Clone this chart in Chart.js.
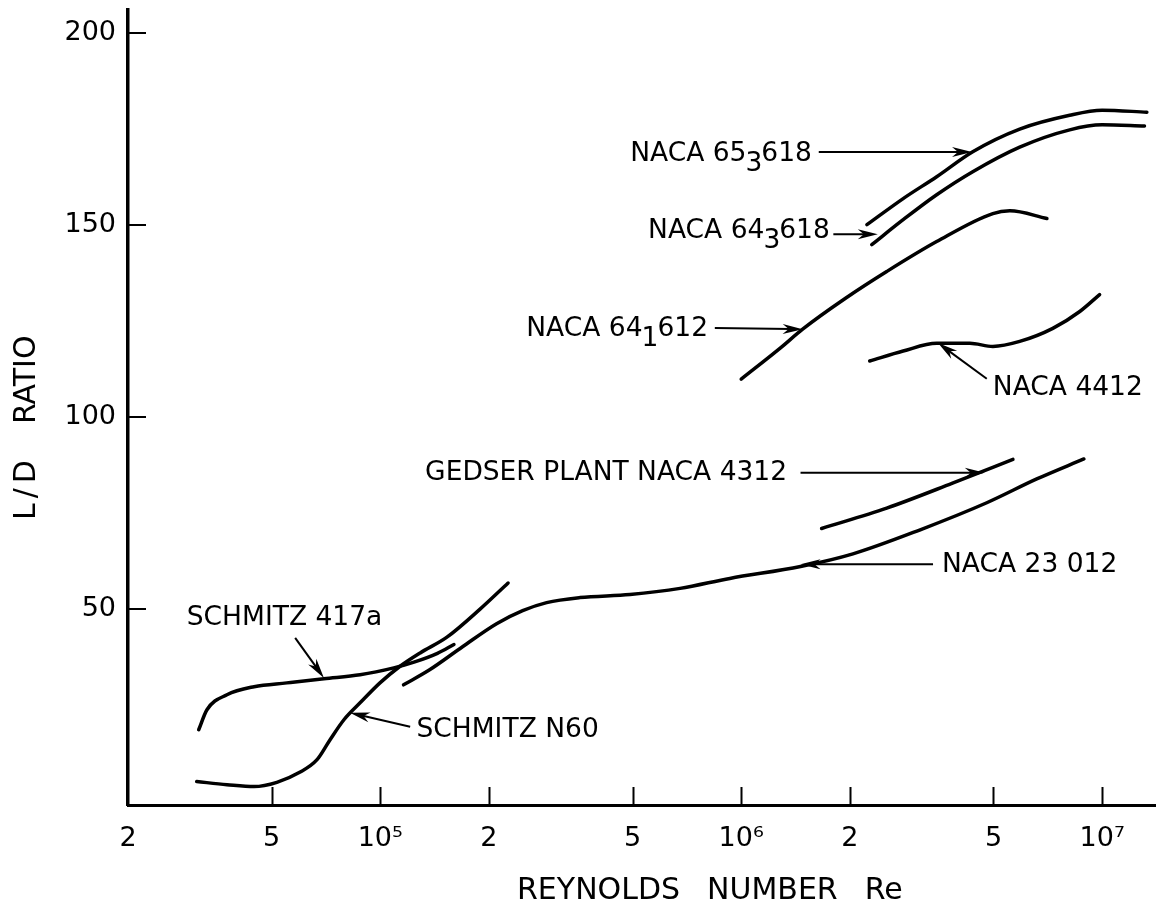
<!DOCTYPE html>
<html>
<head>
<meta charset="utf-8">
<script src="https://cdn.jsdelivr.net/npm/chart.js@4/dist/chart.umd.min.js"></script>
<style>
  html, body { margin: 0; padding: 0; background: #fff; }
  #wrap { width: 1156px; height: 914px; }
</style>
</head>
<body>
<div id="wrap"><canvas id="ldChart" width="1156" height="914"></canvas></div>
<script>
// axis ticks
const reTicks = [2e4, 5e4, 1e5, 2e5, 5e5, 1e6, 2e6, 5e6, 1e7];
const reTickLabels = ['2', '5', '10⁵', '2', '5', '10⁶', '2', '5', '10⁷'];
const ldTicks = [50, 100, 150, 200];
const xTitleWords = ['REYNOLDS', 'NUMBER', 'Re'];
const yTitleWords = ['L/D', 'RATIO'];

// curves (Reynolds number, L/D)
const schmitz417aRe = [3.14e4, 3.31e4, 3.76e4, 4.47e4, 5.51e4, 6.98e4, 8.79e4, 1.09e5, 1.24e5, 1.44e5, 1.60e5];
const schmitz417aLD = [18.6, 23.8, 27.7, 29.8, 30.8, 31.9, 32.9, 34.7, 36.2, 38.5, 40.8];

const schmitzN60Re = [3.10e4, 3.76e4, 4.47e4, 5.17e4, 5.98e4, 6.68e4, 7.26e4, 7.93e4, 8.79e4, 9.98e4, 1.13e5, 1.29e5, 1.53e5, 1.89e5, 2.26e5];
const schmitzN60LD = [5.1, 4.3, 3.8, 4.9, 7.5, 10.8, 16.0, 21.2, 25.6, 30.8, 35.0, 38.6, 42.7, 50.0, 56.8];

const naca23012Re = [1.16e5, 1.37e5, 1.69e5, 2.10e5, 2.48e5, 2.89e5, 3.57e5, 4.92e5, 6.77e5, 9.30e5, 1.46e6, 2.04e6, 3.12e6, 4.79e6, 6.59e6, 8.90e6];
const naca23012LD = [30.3, 34.2, 40.2, 46.2, 49.6, 51.7, 53.0, 53.8, 55.4, 58.0, 61.1, 64.4, 70.6, 77.7, 83.9, 89.1];

const gedser4312Re = [1.67e6, 2.53e6, 3.85e6, 5.66e6];
const gedser4312LD = [71.0, 76.3, 82.8, 89.0];

const naca4412Re = [2.27e6, 2.81e6, 3.48e6, 4.30e6, 4.98e6, 5.91e6, 7.30e6, 8.67e6, 9.84e6];
const naca4412LD = [114.6, 117.2, 119.2, 119.2, 118.4, 119.7, 123.1, 127.5, 131.9];

const naca641612Re = [1.00e6, 1.28e6, 1.48e6, 1.95e6, 2.53e6, 3.48e6, 4.98e6, 5.55e6, 7.03e6];
const naca641612LD = [109.9, 117.9, 122.9, 131.0, 137.9, 145.7, 153.0, 153.7, 151.7];

const naca643618Re = [2.30e6, 2.81e6, 3.48e6, 4.38e6, 5.91e6, 8.13e6, 1.00e7, 1.31e7];
const naca643618LD = [144.9, 151.4, 157.9, 163.9, 170.3, 174.8, 176.1, 175.8];

const naca653618Re = [2.23e6, 2.81e6, 3.48e6, 4.38e6, 5.91e6, 8.13e6, 1.00e7, 1.33e7];
const naca653618LD = [150.1, 156.9, 162.6, 169.1, 175.0, 178.6, 179.9, 179.4];

// callouts: text anchor, arrow tail and tip, all in (Re, L/D); [text, isSubscript]
const callouts = [
    { parts: [['NACA 65'], ['3', 1], ['618']], align: 'right', at: [1.57e6, 168.5], tail: [1.64e6, 169.0], tip: [4.36e6, 169.0] },
    { parts: [['NACA 64'], ['3', 1], ['618']], align: 'right', at: [1.76e6, 148.3], tail: [1.80e6, 147.6], tip: [2.39e6, 147.6] },
    { parts: [['NACA 64'], ['1', 1], ['612']], align: 'right', at: [8.09e5, 123.0], tail: [8.45e5, 123.2], tip: [1.48e6, 122.9] },
    { parts: [['NACA 4412']], align: 'left', at: [4.98e6, 107.6], tail: [4.79e6, 110.0], tip: [3.51e6, 119.3] },
    { parts: [['GEDSER PLANT NACA 4312']], align: 'right', at: [1.34e6, 85.5], tail: [1.46e6, 85.5], tip: [4.73e6, 85.5] },
    { parts: [['NACA 23 012']], align: 'left', at: [3.60e6, 61.4], tail: [3.40e6, 61.7], tip: [1.46e6, 61.7] },
    { parts: [['SCHMITZ 417a']], align: 'left', at: [2.91e4, 47.7], tail: [5.81e4, 42.5], tip: [6.98e4, 32.1] },
    { parts: [['SCHMITZ N60']], align: 'left', at: [1.26e5, 18.6], tail: [1.21e5, 19.4], tip: [8.24e4, 23.0] }
];

const FAMILY = '"DejaVu Sans", sans-serif';
const TICK_FONT = { family: FAMILY, size: 27 };
const LABEL_PX = 26.5;
const TITLE_PX = 30;

function toPoints(xs, ys) {
    return xs.map((x, i) => ({ x: x, y: ys[i] }));
}

function curve(label, xs, ys) {
    return {
        label: label,
        data: toPoints(xs, ys),
        borderColor: '#000',
        borderWidth: 3.5,
        pointRadius: 0,
        fill: false,
        cubicInterpolationMode: 'monotone',
        borderCapStyle: 'round'
    };
}

const inwardTicks = {
    id: 'inwardTicks',
    afterDraw(chart) {
        const { ctx, chartArea, scales } = chart;
        ctx.save();
        ctx.strokeStyle = '#000';
        ctx.lineWidth = 2;
        ctx.beginPath();
        scales.x.ticks.forEach(t => {
            if (t.value === scales.x.min) return;
            const px = Math.round(scales.x.getPixelForValue(t.value)) + 0.5;
            ctx.moveTo(px, chartArea.bottom);
            ctx.lineTo(px, chartArea.bottom - 18);
        });
        scales.y.ticks.forEach(t => {
            const py = Math.round(scales.y.getPixelForValue(t.value));
            ctx.moveTo(chartArea.left, py);
            ctx.lineTo(chartArea.left + 18, py);
        });
        ctx.stroke();
        ctx.restore();
    }
};

// axis titles, spaced out like the hand lettering
const axisTitles = {
    id: 'axisTitles',
    afterDraw(chart) {
        const { ctx, chartArea } = chart;
        ctx.save();
        ctx.fillStyle = '#000';
        ctx.font = TITLE_PX + 'px ' + FAMILY;
        ctx.textBaseline = 'middle';
        ctx.textAlign = 'left';
        const gap = 27;
        let tx = chartArea.left + 389;
        const ty = chartArea.bottom + 86;
        xTitleWords.forEach(w => {
            ctx.fillText(w, tx, ty);
            tx += ctx.measureText(w).width + gap;
        });
        ctx.translate(chartArea.left - 101, chartArea.top + 510);
        ctx.rotate(-Math.PI / 2);
        let ry = 0;
        yTitleWords.forEach((w, i) => {
            ctx.letterSpacing = i === 0 ? '5px' : '0px';
            ctx.fillText(w, ry, 0);
            ry += ctx.measureText(w).width + 31;
        });
        ctx.restore();
    }
};

function drawArrow(ctx, x0, y0, x1, y1) {
    const ang = Math.atan2(y1 - y0, x1 - x0);
    const len = 20, half = 5;
    const c = Math.cos(ang), s = Math.sin(ang);
    ctx.beginPath();
    ctx.moveTo(x0, y0);
    ctx.lineTo(x1 - c * len * 0.6, y1 - s * len * 0.6);
    ctx.stroke();
    ctx.beginPath();
    ctx.moveTo(x1, y1);
    ctx.lineTo(x1 - c * len - s * half, y1 - s * len + c * half);
    ctx.lineTo(x1 - c * len * 0.7, y1 - s * len * 0.7);
    ctx.lineTo(x1 - c * len + s * half, y1 - s * len - c * half);
    ctx.closePath();
    ctx.fill();
}

const calloutPlugin = {
    id: 'callouts',
    afterDatasetsDraw(chart) {
        const { ctx, scales: { x, y } } = chart;
        ctx.save();
        ctx.fillStyle = '#000';
        ctx.strokeStyle = '#000';
        ctx.lineWidth = 2;
        ctx.font = LABEL_PX + 'px ' + FAMILY;
        ctx.textBaseline = 'middle';
        ctx.textAlign = 'left';
        callouts.forEach(c => {
            drawArrow(ctx, x.getPixelForValue(c.tail[0]), y.getPixelForValue(c.tail[1]),
                x.getPixelForValue(c.tip[0]), y.getPixelForValue(c.tip[1]));
            const widths = c.parts.map(p => ctx.measureText(p[0]).width - (p[1] ? 2 : 0));
            const total = widths.reduce((a, b) => a + b, 0);
            let tx = x.getPixelForValue(c.at[0]);
            const ty = y.getPixelForValue(c.at[1]);
            if (c.align === 'right') tx -= total;
            c.parts.forEach((p, i) => {
                ctx.fillText(p[0], p[1] ? tx - 1 : tx, p[1] ? ty + 10 : ty);
                tx += widths[i];
            });
        });
        ctx.restore();
    }
};

Chart.defaults.font.family = FAMILY;
Chart.defaults.color = '#000';

const ctx = document.getElementById('ldChart').getContext('2d');
const ldChart = new Chart(ctx, {
    type: 'line',
    data: {
        datasets: [
            curve('SCHMITZ 417a', schmitz417aRe, schmitz417aLD),
            curve('SCHMITZ N60', schmitzN60Re, schmitzN60LD),
            curve('NACA 23 012', naca23012Re, naca23012LD),
            curve('GEDSER PLANT NACA 4312', gedser4312Re, gedser4312LD),
            curve('NACA 4412', naca4412Re, naca4412LD),
            curve('NACA 64-1 612', naca641612Re, naca641612LD),
            curve('NACA 64-3 618', naca643618Re, naca643618LD),
            curve('NACA 65-3 618', naca653618Re, naca653618LD)
        ]
    },
    options: {
        responsive: false,
        animation: false,
        layout: { padding: { top: 10, right: 0, bottom: 0, left: 0 } },
        plugins: {
            legend: { display: false },
            tooltip: { enabled: false }
        },
        scales: {
            x: {
                type: 'logarithmic',
                min: 2e4,
                max: 1.41e7,
                afterBuildTicks: s => { s.ticks = reTicks.map(v => ({ value: v })); },
                afterFit: s => { s.height = 109; s.paddingLeft = 0; s.paddingRight = 0; },
                ticks: {
                    callback: v => reTickLabels[reTicks.indexOf(v)],
                    font: TICK_FONT,
                    color: '#000',
                    padding: 18,
                    maxRotation: 0,
                    autoSkip: false
                },
                grid: { display: false, drawTicks: false },
                border: { display: true, color: '#000', width: 3 },
                title: { display: false }
            },
            y: {
                min: -1,
                max: 206,
                afterBuildTicks: s => { s.ticks = ldTicks.map(v => ({ value: v })); },
                afterFit: s => { s.width = 128; s.paddingTop = 0; s.paddingBottom = 0; },
                ticks: { font: TICK_FONT, color: '#000', padding: 12 },
                grid: { display: false, drawTicks: false },
                border: { display: true, color: '#000', width: 3.5 },
                title: { display: false }
            }
        }
    },
    plugins: [inwardTicks, calloutPlugin, axisTitles]
});
</script>
</body>
</html>
